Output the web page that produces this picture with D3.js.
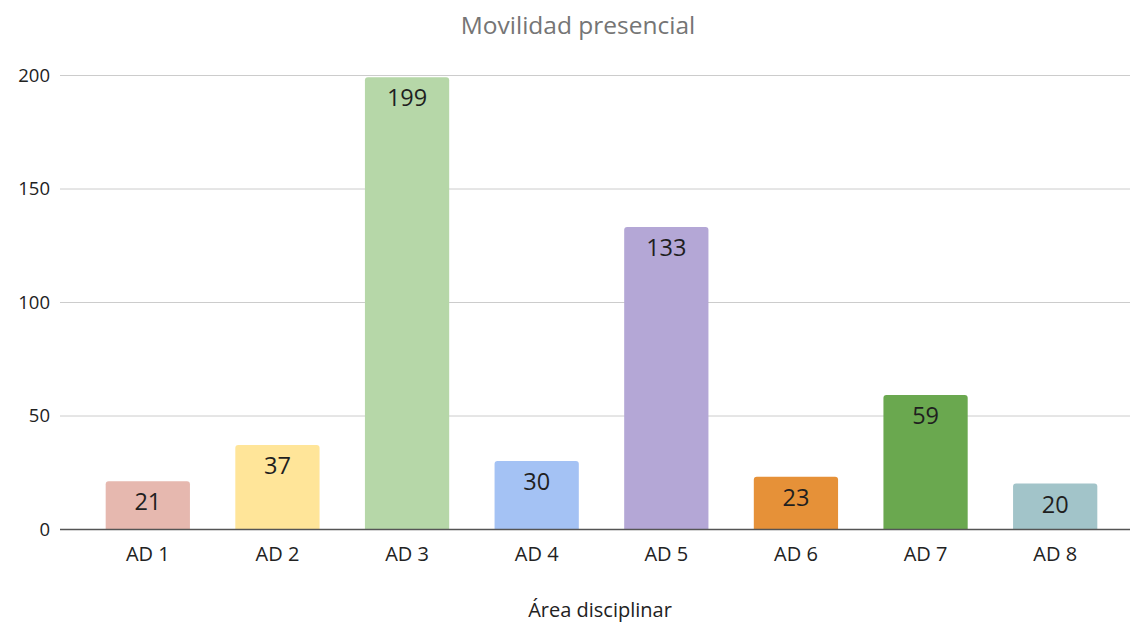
<!DOCTYPE html>
<html><head><meta charset="utf-8">
<script src="https://cdn.jsdelivr.net/npm/d3@7"></script>
<style>body{margin:0;background:#fff;}text{font-family:"Open Sans","Noto Sans",sans-serif;}</style>
</head><body><svg id="c" width="1134" height="625"></svg>
<script>
const categories = ["AD 1","AD 2","AD 3","AD 4","AD 5","AD 6","AD 7","AD 8"];
const values = [21,37,199,30,133,23,59,20];
const colors = ["#e6b8af","#ffe599","#b6d7a8","#a4c2f4","#b4a7d6","#e69138","#6aa84f","#a2c4c9"];
const yTicks = [0,50,100,150,200];
const title = "Movilidad presencial";
const xTitle = "Área disciplinar";

(function(){
const svg = d3.select("#c");
const mLeft = 60, mRight = 1130, mTop = 75, mBottom = 529;
const x = d3.scaleBand().domain(categories).range([83, 1120]).paddingInner(0.35).paddingOuter(0.175);
const y = d3.scaleLinear().domain([0,200]).range([mBottom, mTop]);

svg.append("text").attr("x",578).attr("y",34).attr("text-anchor","middle")
  .attr("font-size",24.5).attr("fill","#757575").text(title);

const ga = svg.append("g");
ga.selectAll("line.g").data(yTicks.filter(d=>d>0)).join("line")
  .attr("x1",mLeft).attr("x2",mRight).attr("y1",d=>y(d)+0.5).attr("y2",d=>y(d)+0.5)
  .attr("stroke","#cccccc").attr("stroke-width",1);
ga.selectAll("text.t").data(yTicks).join("text")
  .attr("x",50).attr("y",d=>y(d)).attr("dy","0.36em").attr("text-anchor","end")
  .attr("font-size",18.5).attr("fill","#222").text(d=>d);

const r = 3;
svg.selectAll("path.bar").data(values).join("path")
  .attr("fill",(d,i)=>colors[i])
  .attr("d",(d,i)=>{
    const x0 = x(categories[i]), w = x.bandwidth(), y0 = y(d), y1 = y(0);
    return `M${x0},${y1}V${y0+r}Q${x0},${y0} ${x0+r},${y0}H${x0+w-r}Q${x0+w},${y0} ${x0+w},${y0+r}V${y1}Z`;
  });
svg.selectAll("text.v").data(values).join("text")
  .attr("x",(d,i)=>x(categories[i])+x.bandwidth()/2).attr("y",d=>y(d)+29)
  .attr("text-anchor","middle").attr("font-size",23.5).attr("fill","#1f1f1f").text(d=>d);

svg.append("line").attr("x1",mLeft).attr("x2",mRight).attr("y1",mBottom+0.5).attr("y2",mBottom+0.5)
  .attr("stroke","#555").attr("stroke-width",1.5);

svg.selectAll("text.xl").data(categories).join("text")
  .attr("x",d=>x(d)+x.bandwidth()/2).attr("y",561).attr("text-anchor","middle")
  .attr("font-size",20).attr("fill","#222").text(d=>d);

svg.append("text").attr("x",600).attr("y",617).attr("text-anchor","middle")
  .attr("font-size",20).attr("fill","#222").text(xTitle);
})();
</script></body></html>
